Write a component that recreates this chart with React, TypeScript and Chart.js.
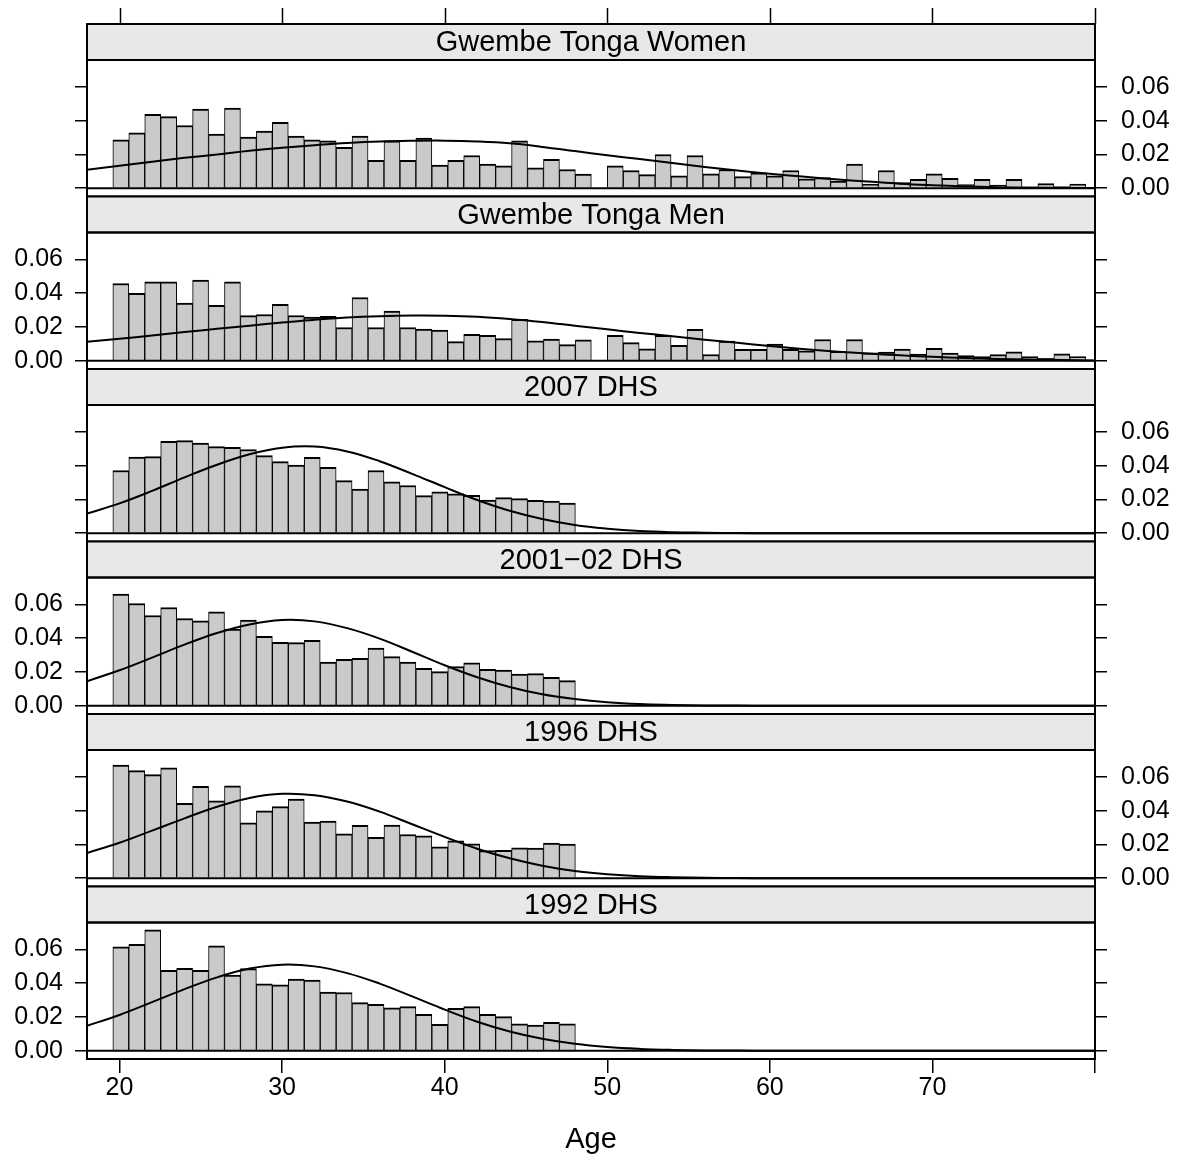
import React, { useEffect, useRef } from "react";
import { Chart, registerables } from "chart.js";

Chart.register(...registerables);

const FONT = '"Liberation Sans", Arial, Helvetica, sans-serif';

// ---------- data ----------
const panelTitles = [
  "Gwembe Tonga Women",
  "Gwembe Tonga Men",
  "2007 DHS",
  "2001\u221202 DHS",
  "1996 DHS",
  "1992 DHS",
];

// histogram breaks: first break and bin width (years)
const binStart = 19.59;
const binWidth = 0.981;

const womenDensity = [
  0.0287, 0.0329, 0.0438, 0.0424, 0.0372, 0.0469, 0.0321, 0.0475, 0.0303, 0.0339,
  0.039, 0.0309, 0.0287, 0.0281, 0.0242, 0.0309, 0.0166, 0.0281, 0.0166, 0.0297,
  0.0137, 0.0166, 0.0194, 0.0143, 0.0133, 0.0281, 0.0121, 0.0172, 0.0111, 0.0084,
  0,
  0.0133, 0.0105, 0.0081, 0.02, 0.0073, 0.0194, 0.0085, 0.0111, 0.0069, 0.0091,
  0.0073, 0.0105, 0.0055, 0.0063, 0.0042, 0.0143, 0.0024, 0.0105, 0.0034, 0.0053,
  0.0085, 0.0059, 0.0022, 0.0053, 0.0018, 0.0053, 0.0008, 0.0028, 0.001, 0.0024,
];

const menDensity = [
  0.0458, 0.0399, 0.0468, 0.0468, 0.0342, 0.0478, 0.0328, 0.0468, 0.0267, 0.0274,
  0.0334, 0.0268, 0.0259, 0.0263, 0.0197, 0.0375, 0.0197, 0.0294, 0.0197, 0.0188,
  0.0182, 0.0113, 0.0156, 0.015, 0.0132, 0.0245, 0.0118, 0.0128, 0.0095, 0.0124,
  0,
  0.015, 0.0107, 0.0071, 0.015, 0.0091, 0.0186, 0.0037, 0.0116, 0.0067, 0.0067,
  0.0099, 0.0067, 0.0059, 0.0126, 0.0055, 0.0126, 0.0047, 0.0051, 0.0069, 0.0039,
  0.0073, 0.0045, 0.003, 0.0024, 0.0036, 0.0053, 0.0024, 0.0014, 0.0041, 0.0024,
];

const dhs2007Density = [
  0.0372, 0.0452, 0.0454, 0.0545, 0.0549, 0.0535, 0.0513, 0.0509, 0.0496, 0.046,
  0.0424, 0.0404, 0.045, 0.039, 0.0312, 0.0261, 0.0372, 0.0304, 0.0283, 0.0223,
  0.0245, 0.0233, 0.0225, 0.0197, 0.0211, 0.0205, 0.0195, 0.0191, 0.0179,
];

const dhs2001Density = [
  0.0661, 0.0606, 0.0535, 0.0582, 0.0517, 0.0503, 0.0556, 0.0455, 0.0507, 0.0412,
  0.0376, 0.0374, 0.0388, 0.0259, 0.0275, 0.0281, 0.0341, 0.0291, 0.0259, 0.0222,
  0.0202, 0.0232, 0.0255, 0.0216, 0.0212, 0.0188, 0.019, 0.0168, 0.0149,
];

const dhs1996Density = [
  0.0671, 0.0638, 0.0614, 0.0655, 0.0444, 0.0545, 0.0459, 0.0547, 0.0329, 0.04,
  0.0424, 0.0469, 0.0333, 0.0339, 0.0263, 0.0313, 0.0242, 0.0315, 0.0259, 0.0251,
  0.0186, 0.0222, 0.0204, 0.0164, 0.0166, 0.018, 0.0178, 0.0208, 0.0202,
];

const dhs1992Density = [
  0.0616, 0.063, 0.0717, 0.0477, 0.0489, 0.0477, 0.0622, 0.0448, 0.0487, 0.0396,
  0.039, 0.0424, 0.0418, 0.0347, 0.0345, 0.0285, 0.0275, 0.0255, 0.0261, 0.0216,
  0.0156, 0.0251, 0.0261, 0.0216, 0.0202, 0.016, 0.0152, 0.0168, 0.016,
];

// fitted density curves, read every 2 years
const curveAges = [
  18, 20, 22, 24, 26, 28, 30, 32, 34, 36, 38, 40, 42, 44, 46, 48,
  50, 52, 54, 56, 58, 60, 62, 64, 66, 68, 70, 72, 74, 76, 78, 80,
];

const womenCurve = [
  0.011, 0.0133, 0.0157, 0.018, 0.02, 0.0222, 0.024, 0.0255, 0.0268, 0.0277, 0.0281, 0.0282, 0.0277, 0.0266, 0.0245, 0.022,
  0.0195, 0.0173, 0.0149, 0.0126, 0.0105, 0.0086, 0.0069, 0.0053, 0.004, 0.0027, 0.0018, 0.0011, 0.0006, 0.0003, 0.0002, 0.0001,
];
const menCurve = [
  0.0112, 0.013, 0.015, 0.017, 0.0189, 0.0208, 0.0226, 0.0243, 0.0256, 0.0264, 0.0268, 0.0267, 0.0261, 0.0248, 0.023, 0.0208,
  0.0186, 0.0165, 0.0145, 0.0125, 0.0106, 0.0087, 0.007, 0.0055, 0.0043, 0.0032, 0.0023, 0.0016, 0.0011, 0.0007, 0.0004, 0.0002,
];
const dhs2007Curve = [
  0.0116, 0.0177, 0.0251, 0.0331, 0.0406, 0.0468, 0.0507, 0.0514, 0.0485, 0.0427, 0.0352, 0.0273, 0.0197, 0.0133, 0.0084, 0.0049,
  0.0027, 0.0013, 0.0006, 0.0003, 0.0001, 0, 0, 0, 0, 0, 0, 0, 0, 0, 0, 0,
];
const dhs2001Curve = [
  0.0145, 0.021, 0.0285, 0.0362, 0.0431, 0.0482, 0.0508, 0.05, 0.046, 0.0398, 0.032, 0.024, 0.0169, 0.0111, 0.0068, 0.004,
  0.0021, 0.001, 0.0005, 0.0002, 0.0001, 0, 0, 0, 0, 0, 0, 0, 0, 0, 0, 0,
];
const dhs1996Curve = [
  0.015, 0.021, 0.0282, 0.0355, 0.0424, 0.0476, 0.05, 0.0492, 0.0455, 0.0395, 0.032, 0.0245, 0.0175, 0.0118, 0.0074, 0.0043,
  0.0024, 0.0012, 0.0006, 0.0003, 0.0001, 0, 0, 0, 0, 0, 0, 0, 0, 0, 0, 0,
];
const dhs1992Curve = [
  0.0148, 0.0212, 0.0288, 0.0365, 0.0435, 0.0487, 0.051, 0.05, 0.046, 0.0398, 0.0322, 0.0244, 0.0172, 0.0114, 0.0071, 0.0041,
  0.0022, 0.0011, 0.0005, 0.0002, 0.0001, 0, 0, 0, 0, 0, 0, 0, 0, 0, 0, 0,
];

const panelBars = [womenDensity, menDensity, dhs2007Density, dhs2001Density, dhs1996Density, dhs1992Density];
const panelCurves = [womenCurve, menCurve, dhs2007Curve, dhs2001Curve, dhs1996Curve, dhs1992Curve];

const xMin = 18;
const xMax = 80;
const yMin = -0.0049;
const yMax = 0.076;
const baselineValue = 0;

const xTickValues = [20, 30, 40, 50, 60, 70, 80];
const xTickLabels = ["20", "30", "40", "50", "60", "70", ""];
const yTickValues = [0, 0.02, 0.04, 0.06];
const yTickLabels = ["0.00", "0.02", "0.04", "0.06"];
const xAxisTitle = "Age";

// ---------- layout ----------
const W = 1177;
const H = 1163;
const PANEL_PITCH = 172.5;
const FIRST_PLOT_TOP = 60;
const PLOT_H = 136.5;
const STRIP_H = 36;
const LEFT_W = 87;
const RIGHT_W = W - 1095;
const BOTTOM_AXIS_H = H - 1059;
const FRAME_W = 2;

const stripPlugin = {
  id: "strip",
  afterDraw(chart: any, _args: any, opts: any) {
    const { ctx, chartArea } = chart;
    const { left, right, top, bottom } = chartArea;
    ctx.save();
    ctx.fillStyle = "#E8E8E8";
    ctx.fillRect(left, top - STRIP_H, right - left, STRIP_H);
    ctx.strokeStyle = "#000";
    ctx.lineWidth = FRAME_W;
    ctx.strokeRect(left, top - STRIP_H, right - left, STRIP_H);
    ctx.fillStyle = "#000";
    ctx.font = `29px ${FONT}`;
    ctx.textAlign = "center";
    ctx.textBaseline = "middle";
    ctx.fillText(opts.title, (left + right) / 2, top - STRIP_H / 2 + 1);
    ctx.strokeRect(left, top, right - left, bottom - top);
    if (opts.topTicks) {
      const xs = chart.scales.x;
      ctx.lineWidth = 1.5;
      ctx.beginPath();
      for (const v of xTickValues) {
        const x = Math.round(xs.getPixelForValue(v)) + 0.5;
        ctx.moveTo(x, top - STRIP_H - 16);
        ctx.lineTo(x, top - STRIP_H);
      }
      ctx.stroke();
    }
    ctx.restore();
  },
};

function Panel({ index }: { index: number }) {
  const ref = useRef<HTMLCanvasElement | null>(null);
  useEffect(() => {
    if (!ref.current) return;
    const plotTop = FIRST_PLOT_TOP + PANEL_PITCH * index;
    const plotBottom = plotTop + PLOT_H;
    const isLast = index === panelTitles.length - 1;
    const labelsRight = index % 2 === 0;
    const bars = panelBars[index];
    const curve = panelCurves[index];

    const barData = bars.map((v, i) => ({ x: binStart + (i + 0.5) * binWidth, y: v }));
    const curveData = curve.map((v, i) => ({ x: curveAges[i], y: v }));
    const baseData = [
      { x: xMin, y: baselineValue },
      { x: xMax, y: baselineValue },
    ];

    const yAxis = (right: boolean) => ({
      type: "linear",
      position: right ? "right" : "left",
      min: yMin,
      max: yMax,
      afterBuildTicks: (s: any) => {
        s.ticks = yTickValues.map((v) => ({ value: v }));
      },
      afterFit: (s: any) => {
        s.width = right ? RIGHT_W : LEFT_W;
      },
      ticks: {
        display: right ? labelsRight : !labelsRight,
        callback: (_v: any, i: number) => yTickLabels[i],
        color: "#000",
        font: { family: FONT, size: 25 },
        padding: right ? 14 : 12,
      },
      grid: {
        display: true,
        drawOnChartArea: false,
        drawTicks: true,
        tickLength: 12,
        color: "#000",
        lineWidth: 1.5,
      },
      border: { display: false },
    });

    const xAxis: any = {
      type: "linear",
      min: xMin,
      max: xMax,
      offset: false,
      display: isLast,
      afterBuildTicks: (s: any) => {
        s.ticks = xTickValues.map((v) => ({ value: v }));
      },
      ticks: {
        callback: (_v: any, i: number) => xTickLabels[i],
        color: "#000",
        font: { family: FONT, size: 25 },
        padding: 0,
        maxRotation: 0,
        autoSkip: false,
      },
      grid: {
        display: true,
        drawOnChartArea: false,
        drawTicks: true,
        tickLength: 14,
        color: "#000",
        lineWidth: 1.5,
        offset: false,
      },
      border: { display: false },
      title: {
        display: true,
        text: xAxisTitle,
        color: "#000",
        font: { family: FONT, size: 29 },
        padding: { top: 0, bottom: 6 },
      },
    };
    if (isLast) {
      xAxis.afterFit = (s: any) => {
        s.height = BOTTOM_AXIS_H;
      };
    }

    const chart = new Chart(ref.current, {
      type: "bar",
      data: {
        datasets: [
          {
            type: "line",
            data: curveData,
            borderColor: "#000",
            borderWidth: 2,
            pointRadius: 0,
            tension: 0.4,
            fill: false,
            order: 0,
            yAxisID: "y",
          } as any,
          {
            type: "line",
            data: baseData,
            borderColor: "#000",
            borderWidth: 2,
            pointRadius: 0,
            fill: false,
            order: 1,
            yAxisID: "y",
          } as any,
          {
            type: "bar",
            data: barData,
            backgroundColor: "#CACACA",
            borderColor: "#000",
            borderWidth: { top: 2, left: 1, right: 1, bottom: 0 },
            borderSkipped: false,
            barPercentage: 1,
            categoryPercentage: 1,
            order: 2,
            yAxisID: "y",
          } as any,
        ],
      },
      options: {
        animation: false,
        responsive: false,
        maintainAspectRatio: false,
        devicePixelRatio: 1,
        layout: {
          padding: {
            top: plotTop,
            bottom: isLast ? 0 : H - plotBottom,
            left: 0,
            right: 0,
          },
        },
        plugins: {
          legend: { display: false },
          tooltip: { enabled: false },
          strip: { title: panelTitles[index], topTicks: index === 0 },
        } as any,
        scales: {
          x: xAxis,
          y: yAxis(false),
          y2: yAxis(true),
        } as any,
      },
      plugins: [stripPlugin],
    } as any);
    return () => chart.destroy();
  }, [index]);

  return (
    <canvas
      ref={ref}
      width={W}
      height={H}
      style={{ position: "absolute", left: 0, top: 0, width: W, height: H }}
    />
  );
}

export default function App() {
  return (
    <div
      style={{
        position: "absolute",
        left: 0,
        top: 0,
        width: W,
        height: H,
        background: "#fff",
        overflow: "hidden",
      }}
    >
      {panelTitles.map((_t, i) => (
        <Panel key={i} index={i} />
      ))}
    </div>
  );
}
